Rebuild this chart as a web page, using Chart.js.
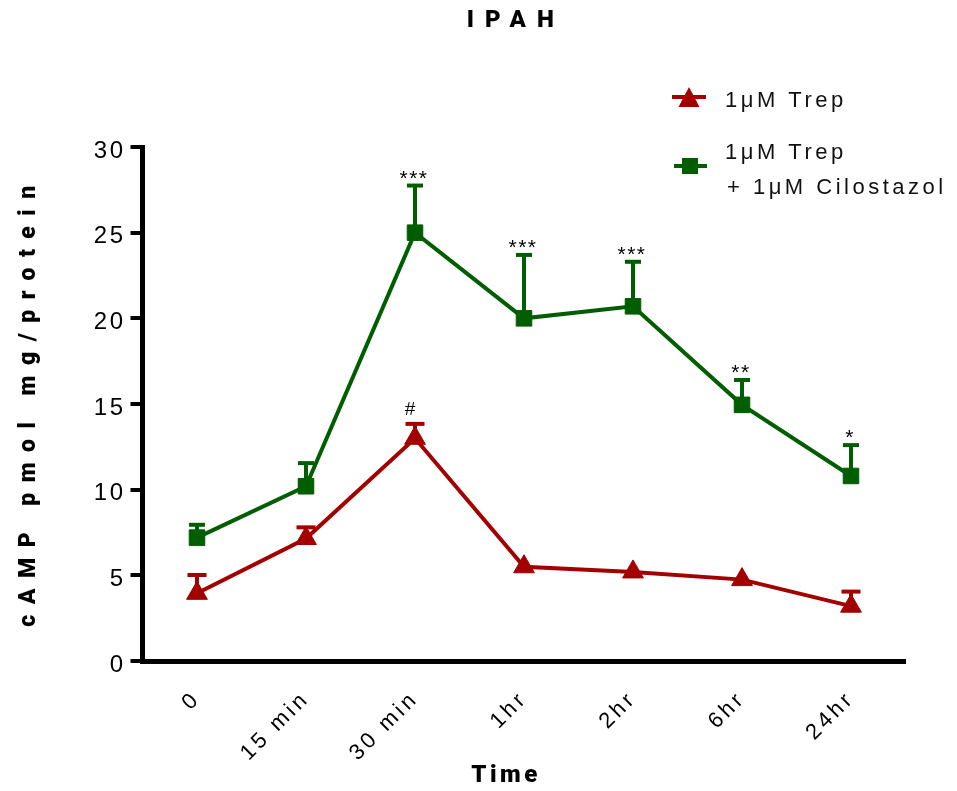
<!DOCTYPE html>
<html>
<head>
<meta charset="utf-8">
<script src="https://cdn.jsdelivr.net/npm/chart.js@4/dist/chart.umd.min.js"></script>
<style>
  html, body { margin: 0; padding: 0; background: #ffffff; }
  #wrap { width: 957px; height: 791px; position: relative; }
</style>
</head>
<body>
<div id="wrap"><canvas id="c" width="957" height="791"></canvas></div>
<script>
// ---- data ----
const timeLabels = ['0', '15 min', '30 min', '1hr', '2hr', '6hr', '24hr'];
const trepValues = [3.95, 7.15, 13.0, 5.5, 5.2, 4.75, 3.2];
const trepSem = [1.07, 0.65, 0.84, 0, 0, 0, 0.85];
const trepMarks = ['', '', '#', '', '', '', ''];
const comboValues = [7.2, 10.2, 25.0, 20.0, 20.7, 14.95, 10.8];
const comboSem = [0.75, 1.35, 2.75, 3.7, 2.6, 1.45, 1.8];
const comboMarks = ['', '', '***', '***', '***', '**', '*'];
const yTicks = [0, 5, 10, 15, 20, 25, 30];
const seriesNames = [['1\u03bcM Trep'], ['1\u03bcM Trep', '+ 1\u03bcM Cilostazol']];

// ---- style ----
const RED = '#a30000';
const GREEN = '#005e00';
const FONT = "'Liberation Sans', Arial, Helvetica, sans-serif";
const HEAVY = "Roboto, 'Liberation Sans', Arial, sans-serif";

function wrapSpacing(obj, name, spacing, dx, dy) {
  if (!obj || obj['__w_' + name]) return;
  const orig = obj[name];
  obj[name] = function () {
    const ctx = this.ctx;
    ctx.save();
    ctx.letterSpacing = spacing;
    if (dx || dy) ctx.translate(dx || 0, dy || 0);
    const r = orig.apply(this, arguments);
    ctx.restore();
    return r;
  };
  obj['__w_' + name] = true;
}

const spacingPlugin = {
  id: 'spacing',
  afterLayout(chart) {
    wrapSpacing(chart.titleBlock, 'draw', '11px', 63, 0);
    wrapSpacing(chart.scales.y, 'drawTitle', '10.5px', 0, -3);
    wrapSpacing(chart.scales.y, 'drawLabels', '2.5px', 0, 4);
    wrapSpacing(chart.scales.x, 'drawLabels', '3.5px', 0, 0);
    wrapSpacing(chart.scales.x, 'drawTitle', '3.5px', -18, 0);
  }
};

const errorPlugin = {
  id: 'errorBars',
  beforeDatasetsDraw(chart) {
    const ctx = chart.ctx;
    const x = chart.scales.x, y = chart.scales.y;
    const sets = [
      { v: trepValues, e: trepSem, c: RED, cap: 19 },
      { v: comboValues, e: comboSem, c: GREEN, cap: 16 }
    ];
    ctx.save();
    sets.forEach(s => {
      ctx.strokeStyle = s.c;
      s.v.forEach((val, i) => {
        if (!s.e[i]) return;
        const px = x.getPixelForValue(i);
        const py = y.getPixelForValue(val);
        const pt = y.getPixelForValue(val + s.e[i]);
        ctx.lineWidth = 4;
        ctx.beginPath();
        ctx.moveTo(px, py);
        ctx.lineTo(px, pt);
        ctx.stroke();
        ctx.beginPath();
        ctx.moveTo(px - s.cap / 2, pt);
        ctx.lineTo(px + s.cap / 2, pt);
        ctx.stroke();
      });
    });
    ctx.restore();
  },
  afterDatasetsDraw(chart) {
    const ctx = chart.ctx;
    const x = chart.scales.x, y = chart.scales.y;
    ctx.save();
    ctx.fillStyle = '#000000';
    ctx.textAlign = 'center';
    ctx.textBaseline = 'alphabetic';
    const draw = (vals, sems, marks) => {
      marks.forEach((m, i) => {
        if (!m) return;
        const px = x.getPixelForValue(i);
        const pt = y.getPixelForValue(vals[i] + sems[i]);
        if (m === '#') {
          ctx.font = '19px ' + FONT;
          ctx.letterSpacing = '0px';
          ctx.fillText(m, px - 5, pt - 9);
        } else {
          ctx.font = '21px ' + FONT;
          ctx.letterSpacing = '1.5px';
          ctx.fillText(m, px - 1, pt - 1);
        }
      });
    };
    draw(comboValues, comboSem, comboMarks);
    draw(trepValues, trepSem, trepMarks);
    ctx.restore();
  }
};

const legendPlugin = {
  id: 'customLegend',
  afterDraw(chart) {
    const ctx = chart.ctx;
    ctx.save();
    ctx.lineWidth = 4;
    // red entry
    ctx.strokeStyle = RED; ctx.fillStyle = RED;
    ctx.beginPath(); ctx.moveTo(672, 97); ctx.lineTo(706, 97); ctx.stroke();
    ctx.beginPath();
    ctx.moveTo(689, 87); ctx.lineTo(699.5, 107); ctx.lineTo(678.5, 107); ctx.closePath(); ctx.fill();
    // green entry
    ctx.strokeStyle = GREEN; ctx.fillStyle = GREEN;
    ctx.beginPath(); ctx.moveTo(674, 166); ctx.lineTo(707, 166); ctx.stroke();
    ctx.fillRect(682, 158, 16, 16);
    // text
    ctx.fillStyle = '#111111';
    ctx.font = '22px ' + FONT;
    ctx.letterSpacing = '3.5px';
    ctx.textAlign = 'left';
    ctx.textBaseline = 'middle';
    ctx.fillText(seriesNames[0][0], 725, 101);
    ctx.fillText(seriesNames[1][0], 725, 153);
    ctx.fillText(seriesNames[1][1], 727, 188);
    ctx.restore();
  }
};

new Chart(document.getElementById('c'), {
  type: 'line',
  data: {
    labels: timeLabels,
    datasets: [
      {
        label: seriesNames[0].join(' '),
        data: trepValues,
        borderColor: RED,
        backgroundColor: RED,
        borderWidth: 4,
        pointStyle: 'triangle',
        pointRadius: 12,
        pointBorderWidth: 1,
        pointBackgroundColor: RED,
        pointBorderColor: RED,
        tension: 0
      },
      {
        label: seriesNames[1].join(' '),
        data: comboValues,
        borderColor: GREEN,
        backgroundColor: GREEN,
        borderWidth: 4,
        pointStyle: 'rect',
        pointRadius: 11,
        pointBorderWidth: 1,
        pointBackgroundColor: GREEN,
        pointBorderColor: GREEN,
        tension: 0
      }
    ]
  },
  options: {
    responsive: false,
    animation: false,
    layout: { padding: { left: 0, right: 51.5, top: 0, bottom: 0 } },
    plugins: {
      legend: { display: false },
      tooltip: { enabled: false },
      title: {
        display: true,
        text: 'IPAH',
        color: '#000000',
        font: { family: HEAVY, size: 24, weight: 900, lineHeight: 1.2 },
        padding: { top: 7, bottom: 111.2 }
      }
    },
    scales: {
      x: {
        type: 'category',
        offset: true,
        grid: { display: false, drawTicks: false },
        border: { display: true, color: '#000000', width: 5 },
        ticks: {
          color: '#000000',
          autoSkip: false,
          minRotation: 45,
          maxRotation: 45,
          padding: 25,
          font: { family: FONT, size: 22 }
        },
        title: {
          display: true,
          text: 'Time',
          color: '#000000',
          font: { family: HEAVY, size: 24, weight: 900, lineHeight: 1.2 },
          padding: { top: 0, bottom: 0.5 }
        },
        afterFit(scale) { scale.height = 130; }
      },
      y: {
        min: 0,
        max: 30,
        afterBuildTicks(scale) { scale.ticks = yTicks.map(v => ({ value: v })); },
        grid: {
          display: true,
          drawOnChartArea: false,
          drawTicks: true,
          tickLength: 12,
          lineWidth: 4,
          color: '#000000'
        },
        border: { display: true, color: '#000000', width: 5 },
        ticks: {
          color: '#000000',
          padding: 5,
          font: { family: FONT, size: 24 }
        },
        title: {
          display: true,
          text: 'cAMP pmol mg/protein',
          color: '#000000',
          font: { family: HEAVY, size: 23, weight: 900, lineHeight: 1.2 },
          padding: { top: 15, bottom: 0 }
        },
        afterFit(scale) { scale.width = 142.5; }
      }
    }
  },
  plugins: [spacingPlugin, errorPlugin, legendPlugin]
});
</script>
</body>
</html>
